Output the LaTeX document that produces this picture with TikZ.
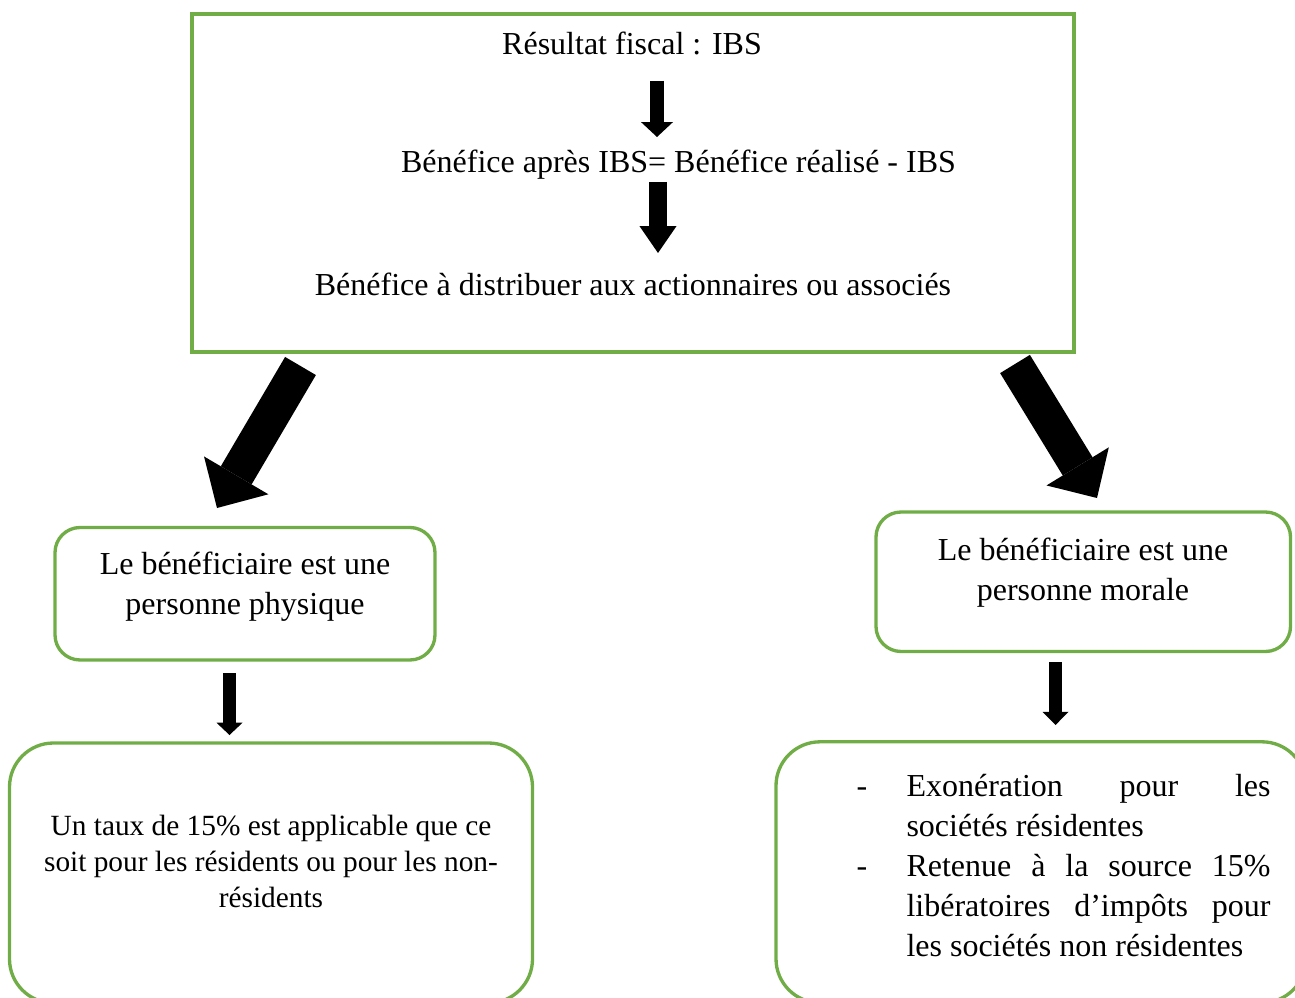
\documentclass[tikz,border=0pt]{standalone}
\usepackage{fontspec}
\setmainfont{Liberation Serif}
\usetikzlibrary{arrows.meta, positioning, calc}
\definecolor{boxgreen}{RGB}{112,173,71}
\newlength{\px}
\setlength{\px}{0.375pt}
\tikzset{
  flatbox/.style={
    rectangle, draw=boxgreen, line width=1.25pt, inner sep=0pt
  },
  roundbox/.style={
    rectangle, rounded corners=#1, draw=boxgreen, line width=1.25pt, inner sep=0pt
  },
  roundbox/.default=9.4pt,
  boxtext/.style={
    inner sep=0pt, font=\fontsize{12}{15}\selectfont, align=center
  },
  blockarrow/.style n args={3}{
    draw=black, line width=#1,
    -{Triangle[width=#2, length=#3, line width=0pt]}
  }
}

\begin{document}
\begin{tikzpicture}[x=0.375pt, y=-0.375pt]

\useasboundingbox (0,0) rectangle (1295,998);
\clip (0,0) rectangle (1295,998);

% ═══════════════════════════════════════════════════════════════════
% TOP BOX — from fiscal result to distributable profit
% ═══════════════════════════════════════════════════════════════════

\node[flatbox, minimum width=882\px, minimum height=338\px]
  (topbox) at (633,183) {};

\node[boxtext, anchor=base] (resfisc)  at (632,55)
  {Résultat fiscal : IBS};
\node[boxtext, anchor=base] (benapres) at (678.5,173)
  {Bénéfice après IBS= Bénéfice réalisé - IBS};
\node[boxtext, anchor=base] (bendistr) at (633,296)
  {Bénéfice à distribuer aux actionnaires ou associés};

% ═══════════════════════════════════════════════════════════════════
% MIDDLE ROW — type of beneficiary
% ═══════════════════════════════════════════════════════════════════

\node[roundbox, minimum width=380\px, minimum height=132.5\px]
  (physbox) at (245,593.75) {};
\node[boxtext] (phystext) at (245,587)
  {Le bénéficiaire est une\\personne physique};

\node[roundbox, minimum width=414.5\px, minimum height=139.5\px]
  (moralbox) at (1083.25,581.75) {};
\node[boxtext] (moraltext) at (1083,573)
  {Le bénéficiaire est une\\personne morale};

% ═══════════════════════════════════════════════════════════════════
% BOTTOM ROW — applicable treatment
% ═══════════════════════════════════════════════════════════════════

\node[roundbox=16.5pt, minimum width=523\px, minimum height=260\px]
  (tauxbox) at (271,873) {};
\node[boxtext, font=\fontsize{11}{13.5}\selectfont] (tauxtext) at (271,861)
  {Un taux de 15\% est applicable que ce\\
   soit pour les résidents ou pour les non-\\
   résidents};

\node[roundbox=16.5pt, minimum width=530\px, minimum height=261\px]
  (exobox) at (1041,872.3) {};
\node[anchor=base west, inner sep=0pt] (exotext) at (856,796)
  {\parbox[t]{414\px}{\fontsize{12}{15}\selectfont
     \parindent=0pt \tolerance=10000 \hbadness=10000
     \hyphenpenalty=10000 \exhyphenpenalty=10000
     \hangindent=50\px \hangafter=1
     \makebox[50\px][l]{-}Exonération pour les sociétés résidentes\par
     \hangindent=50\px \hangafter=1
     \makebox[50\px][l]{-}Retenue à la source 15\% libératoires
     d’impôts pour les sociétés non résidentes}};

% ═══════════════════════════════════════════════════════════════════
% ARROW END POINTS
% ═══════════════════════════════════════════════════════════════════

\coordinate (a1s) at (657,81);
\coordinate (a1e) at (657,137);
\coordinate (a2s) at (658,182);
\coordinate (a2e) at (658,253);
\coordinate (dls) at (300.5,366);
\coordinate (dle) at (217,508);
\coordinate (drs) at (1015,364);
\coordinate (dre) at (1097,498);
\coordinate (pls) at (229.5,673);
\coordinate (ple) at (229.5,735);
\coordinate (mrs) at (1055.5,662);
\coordinate (mre) at (1055.5,725);

% ═══════════════════════════════════════════════════════════════════
% BLOCK ARROWS
% ═══════════════════════════════════════════════════════════════════

% inside the top box
\draw[blockarrow={5.25pt}{12pt}{5.6pt}]   (a1s) -- (a1e);
\draw[blockarrow={6.4pt}{13.9pt}{10.1pt}] (a2s) -- (a2e);

% top box → beneficiaries
\draw[blockarrow={13.4pt}{28pt}{14.2pt}]  (dls) -- (dle);
\draw[blockarrow={13.1pt}{27.4pt}{13.9pt}] (drs) -- (dre);

% beneficiaries → treatment
\draw[blockarrow={4.6pt}{9.75pt}{4.6pt}]  (pls) -- (ple);
\draw[blockarrow={4.6pt}{9.75pt}{4.9pt}]  (mrs) -- (mre);

\end{tikzpicture}
\end{document}
